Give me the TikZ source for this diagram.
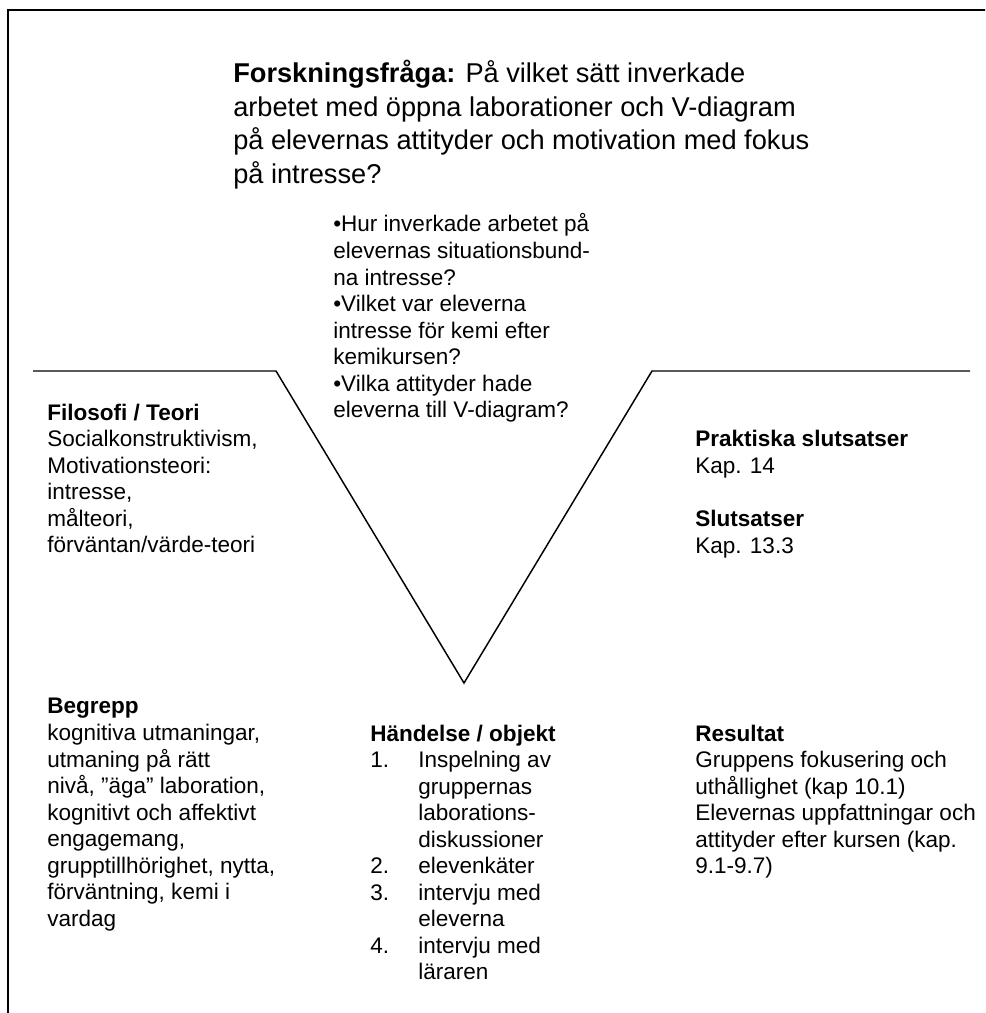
\documentclass[tikz,border=0pt]{standalone}
\usepackage{fontspec}
\setmainfont{Liberation Sans}
\begin{document}
\begin{tikzpicture}[x=0.75pt,y=-0.75pt,
  body/.style={anchor=base west, align=left, inner sep=0pt,
    font=\fontsize{16.9}{19.9}\selectfont},
  title/.style={anchor=base west, align=left, inner sep=0pt,
    font=\fontsize{20.4}{25.1}\selectfont},
  frame/.style={line width=1.5pt},
  vee/.style={line width=1.1pt, line join=miter}]
\useasboundingbox (0,0) rectangle (985,1013);
\clip (0,0) rectangle (985,1013);

% outer frame (open to the right and bottom)
\coordinate (fbl) at (8,1030);
\coordinate (ftl) at (8,10);
\coordinate (ftr) at (1000,10);
\draw[frame] (fbl) -- (ftl) -- (ftr);

% the V
\coordinate (lo) at (33,371);
\coordinate (lk) at (276,371);
\coordinate (tip) at (464,683);
\coordinate (rk) at (652,371);
\coordinate (ro) at (970,371);
\draw[vee] (lo) -- (lk) -- (tip) -- (rk) -- (ro);

% multi-line nodes are placed by the baseline of their last line
% research question (4 lines, first baseline at 83)
\node[title] (rq) at (233,183.4) {\textbf{Forskningsfråga:} På vilket sätt inverkade\\
arbetet med öppna laborationer och V-diagram\\
på elevernas attityder och motivation med fokus\\
på intresse?};

% sub-questions (8 lines, first baseline at 232)
\node[body] (sq) at (333,417.7) {•Hur inverkade arbetet på\\
elevernas situationsbund-\\
na intresse?\\
•Vilket var eleverna\\
intresse för kemi efter\\
kemikursen?\\
•Vilka attityder hade\\
eleverna till V-diagram?};

% theory (6 lines, first baseline at 420)
\node[body] (theory) at (47,552.7) {\textbf{Filosofi / Teori}\\
Socialkonstruktivism,\\
Motivationsteori:\\
intresse,\\
målteori,\\
förväntan/värde-teori};

% conclusions (first baseline at 447)
\node[body] (concl) at (695,553.1) {\textbf{Praktiska slutsatser}\\
Kap. 14\\[19.9pt]
\textbf{Slutsatser}\\
Kap. 13.3};

% concepts (9 lines, first baseline at 714)
\node[body] (concepts) at (47,926.2) {\textbf{Begrepp}\\
kognitiva utmaningar,\\
utmaning på rätt\\
nivå, ”äga” laboration,\\
kognitivt och affektivt\\
engagemang,\\
grupptillhörighet, nytta,\\
förväntning, kemi i\\
vardag};

% events / objects (10 lines, first baseline at 741)
\newcommand{\numitem}[1]{\makebox[36pt][l]{#1}}
\newcommand{\contitem}{\hspace*{36pt}}
\node[body] (events) at (370,979.8) {\textbf{Händelse / objekt}\\
\numitem{1.}Inspelning av\\
\contitem gruppernas\\
\contitem laborations-\\
\contitem diskussioner\\
\numitem{2.}elevenkäter\\
\numitem{3.}intervju med\\
\contitem eleverna\\
\numitem{4.}intervju med\\
\contitem läraren};

% results (6 lines, first baseline at 741)
\node[body] (results) at (695,873.7) {\textbf{Resultat}\\
Gruppens fokusering och\\
uthållighet (kap 10.1)\\
Elevernas uppfattningar och\\
attityder efter kursen (kap.\\
9.1-9.7)};
\end{tikzpicture}
\end{document}
